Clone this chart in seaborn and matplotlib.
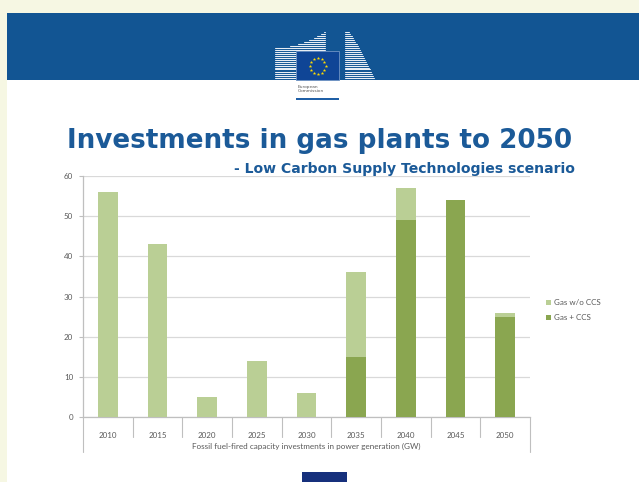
import numpy as np
import pandas as pd
import matplotlib
matplotlib.use("Agg")
import matplotlib.pyplot as plt
from matplotlib.patches import Rectangle, Patch
from matplotlib.lines import Line2D
from matplotlib.transforms import blended_transform_factory
import seaborn as sns

# ---- data -------------------------------------------------------------
years = ["2010", "2015", "2020", "2025", "2030", "2035", "2040", "2045", "2050"]
gas_ccs = [0, 0, 0, 0, 0, 15, 49, 54, 25]
gas_no_ccs = [56, 43, 5, 14, 6, 21, 8, 0, 1]
y_ticks = [0, 10, 20, 30, 40, 50, 60]
series_names = ["Gas w/o CCS", "Gas + CCS"]

title = "Investments in gas plants to 2050"
subtitle = "- Low Carbon Supply Technologies scenario"
x_label = "Fossil fuel-fired capacity investments in power generation (GW)"

df = pd.DataFrame({"year": years, "ccs": gas_ccs, "no_ccs": gas_no_ccs})
df["total"] = df["ccs"] + df["no_ccs"]

# ---- style ------------------------------------------------------------
sns.set_style("white")
plt.rcParams["font.family"] = ["Lato", "DejaVu Sans"]

W, H = 639, 482
LIGHT = "#bacf95"
DARK = "#8aa650"
GRID = "#d9d9d9"
AXIS = "#bfbfbf"
TXT = "#595959"
BANNER = "#125593"
TITLE_C = "#1b5a98"
CREAM = "#f6f7e3"


def fx(x):
    return x / W


def fy(y):
    return 1 - y / H


fig = plt.figure(figsize=(W / 100, H / 100), dpi=100)
fig.patch.set_facecolor("white")

# slide background: cream margins, blue banner
fig.add_artist(Rectangle((0, fy(13)), 1, 13 / H, transform=fig.transFigure,
                         facecolor=CREAM, edgecolor="none", zorder=0))
fig.add_artist(Rectangle((0, 0), fx(7), 1, transform=fig.transFigure,
                         facecolor=CREAM, edgecolor="none", zorder=0))
fig.add_artist(Rectangle((fx(7), fy(80)), 1 - fx(7), 67 / H, transform=fig.transFigure,
                         facecolor=BANNER, edgecolor="none", zorder=1))

# building stripes of the logo
for yy in np.arange(31.5, 80, 2.0):
    x0 = 275 if yy >= 47 else 275 + 50 * np.sqrt((47 - yy) / 16)
    if x0 < 325:
        fig.add_artist(Line2D([fx(x0), fx(325)], [fy(yy), fy(yy)], transform=fig.transFigure,
                              color="white", lw=0.75, alpha=0.9, zorder=2))
for yy in np.arange(31.5, 80, 2.0):
    x1 = 346 + 29 * ((yy - 29) / 51) ** 0.8
    fig.add_artist(Line2D([fx(345), fx(x1)], [fy(yy), fy(yy)], transform=fig.transFigure,
                          color="white", lw=0.75, alpha=0.9, zorder=2))

# flag block
fig.add_artist(Rectangle((fx(296), fy(80)), 43 / W, 28.5 / H, transform=fig.transFigure,
                         facecolor="#0f4596", edgecolor="#6f93c4", lw=0.6, zorder=3))
cx, cy, r = 317.5, 66, 8
for k in range(12):
    a = 2 * np.pi * k / 12
    fig.add_artist(Line2D([fx(cx + r * np.cos(a))], [fy(cy + r * np.sin(a))],
                          transform=fig.transFigure, marker="*", ms=2.6,
                          color="#ffdd00", mec="none", linestyle="none", zorder=4))
fig.text(fx(298), fy(89), "European\nCommission", fontsize=3.2, color="#555555",
         ha="left", va="center", linespacing=1.3, family="DejaVu Sans")
fig.add_artist(Rectangle((fx(296), fy(100)), 43 / W, 2.5 / H, transform=fig.transFigure,
                         facecolor="#1f5fa6", edgecolor="none", zorder=3))
fig.add_artist(Rectangle((fx(302), 0), 45 / W, 10 / H, transform=fig.transFigure,
                         facecolor="#16307c", edgecolor="none", zorder=3))

# titles
fig.text(fx(320), fy(148), title, fontsize=18.9, fontweight="bold", color=TITLE_C,
         ha="center", va="baseline", family="DejaVu Sans")
fig.text(fx(575), fy(173), subtitle, fontsize=10.1, fontweight="bold", color=TITLE_C,
         ha="right", va="baseline", family="DejaVu Sans")

# ---- chart ------------------------------------------------------------
ax = fig.add_axes([fx(83), fy(417), (530 - 83) / W, (417 - 176) / H])
ax.set_facecolor("none")

sns.barplot(data=df, x="year", y="total", order=years, color=LIGHT, width=0.39,
            linewidth=0, saturation=1, ax=ax, zorder=3)
sns.barplot(data=df, x="year", y="ccs", order=years, color=DARK, width=0.39,
            linewidth=0, saturation=1, ax=ax, zorder=4)

ax.set_ylim(0, 60)
ax.set_xlim(-0.5, len(years) - 0.5)
ax.set_yticks(y_ticks)
ax.set_yticklabels([str(v) for v in y_ticks])
ax.yaxis.grid(True, color=GRID, lw=0.9, zorder=0)
ax.xaxis.grid(False)
for s in ["top", "right"]:
    ax.spines[s].set_visible(False)
ax.spines["left"].set_color(AXIS)
ax.spines["bottom"].set_color(AXIS)
ax.spines["left"].set_linewidth(0.9)
ax.spines["bottom"].set_linewidth(0.9)
ax.tick_params(axis="y", left=True, length=3, width=0.8, color=AXIS,
               labelsize=5.8, labelcolor=TXT, pad=4)
ax.tick_params(axis="x", bottom=False, labelsize=5.8, labelcolor=TXT, pad=7)
ax.set_xlabel("")
ax.set_ylabel("")

# category boxes below the axis
tr = blended_transform_factory(ax.transData, ax.transAxes)
sep_depth = 20 / (417 - 176)
outer_depth = 35 / (417 - 176)
for i in range(len(years) - 1):
    ax.add_line(Line2D([i + 0.5, i + 0.5], [0, -sep_depth], transform=tr,
                       color=AXIS, lw=0.8, clip_on=False))
for xe in (-0.5, len(years) - 0.5):
    ax.add_line(Line2D([xe, xe], [0, -outer_depth], transform=tr,
                       color=AXIS, lw=0.8, clip_on=False))
ax.text((len(years) - 1) / 2, -29 / (417 - 176), x_label, transform=tr,
        ha="center", va="center", fontsize=5.85, color=TXT)

# legend
handles = [Patch(facecolor=LIGHT, edgecolor="none"), Patch(facecolor=DARK, edgecolor="none")]
ax.legend(handles, series_names, loc="center left",
          bbox_to_anchor=(fx(539), fy(310)), bbox_transform=fig.transFigure,
          frameon=False, fontsize=5.8, labelcolor=TXT, handlelength=0.6,
          handleheight=0.6, handletextpad=0.3, labelspacing=1.0)

fig.savefig("out.png", dpi=100)
